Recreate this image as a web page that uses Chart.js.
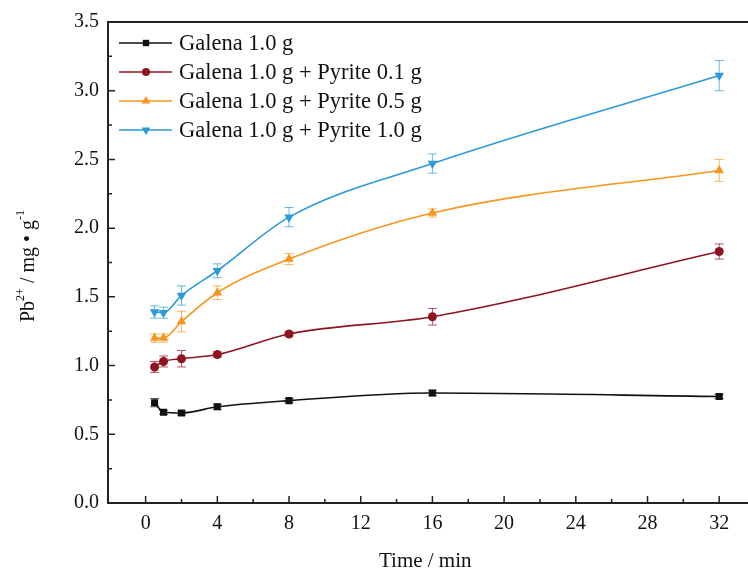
<!DOCTYPE html>
<html>
<head>
<meta charset="utf-8">
<script src="https://cdn.jsdelivr.net/npm/chart.js@4.4.1/dist/chart.umd.min.js"></script>
<style>
    html, body { margin: 0; padding: 0; background: #fff; }
    #wrap { width: 748px; height: 574px; position: relative; }
</style>
</head>
<body>
<div id="wrap"><canvas id="leachChart"></canvas></div>
<script>
// Sampling times (min)
const times = [0.5, 1, 2, 4, 8, 16, 32];

// Pb2+ leached, mg/g
const galena = [0.73, 0.66, 0.655, 0.70, 0.745, 0.80, 0.775];
const pyrite01 = [0.99, 1.03, 1.05, 1.08, 1.23, 1.355, 1.83];
const pyrite05 = [1.20, 1.20, 1.32, 1.53, 1.775, 2.11, 2.42];
const pyrite10 = [1.39, 1.385, 1.51, 1.69, 2.08, 2.47, 3.11];

// Error bar half-heights
const galenaErr = [0.03, 0.015, 0.015, 0.02, 0.015, 0.02, 0.015];
const pyrite01Err = [0.04, 0.04, 0.06, 0.02, 0.015, 0.06, 0.055];
const pyrite05Err = [0.03, 0.03, 0.075, 0.05, 0.04, 0.03, 0.08];
const pyrite10Err = [0.045, 0.04, 0.07, 0.05, 0.07, 0.07, 0.11];

const labels = [
    'Galena 1.0 g',
    'Galena 1.0 g + Pyrite 0.1 g',
    'Galena 1.0 g + Pyrite 0.5 g',
    'Galena 1.0 g + Pyrite 1.0 g'
];

const serif = '"Liberation Serif", "Times New Roman", serif';

function toPoints(values) {
    return times.map((t, i) => ({ x: t, y: values[i] }));
}

function makeSet(label, values, errors, color, style, size, rotation) {
    return {
        label: label,
        data: toPoints(values),
        errors: errors,
        borderColor: color,
        backgroundColor: color,
        borderWidth: 1.6,
        pointStyle: style,
        pointRadius: size,
        pointRotation: rotation || 0,
        pointBorderWidth: 0,
        cubicInterpolationMode: 'monotone',
        fill: false
    };
}

// Error bars, drawn under the markers
const errorBars = {
    id: 'errorBars',
    beforeDatasetsDraw(chart) {
        const ctx = chart.ctx;
        const xs = chart.scales.x, ys = chart.scales.y;
        chart.data.datasets.forEach(ds => {
            ctx.save();
            ctx.strokeStyle = ds.borderColor;
            ctx.globalAlpha = 0.7;
            ctx.lineWidth = 1;
            ds.data.forEach((p, i) => {
                const e = ds.errors[i];
                const px = xs.getPixelForValue(p.x);
                const top = ys.getPixelForValue(p.y + e);
                const bot = ys.getPixelForValue(p.y - e);
                ctx.beginPath();
                ctx.moveTo(px, top); ctx.lineTo(px, bot);
                ctx.moveTo(px - 4.5, top); ctx.lineTo(px + 4.5, top);
                ctx.moveTo(px - 4.5, bot); ctx.lineTo(px + 4.5, bot);
                ctx.stroke();
            });
            ctx.restore();
        });
    }
};

// Frame, inward ticks, y title and legend
const frame = {
    id: 'frame',
    afterDraw(chart) {
        const ctx = chart.ctx;
        const a = chart.chartArea;
        const xs = chart.scales.x, ys = chart.scales.y;
        ctx.save();
        ctx.strokeStyle = '#222';
        ctx.lineWidth = 2;
        ctx.beginPath();
        ctx.moveTo(chart.width, a.top);
        ctx.lineTo(a.left, a.top);
        ctx.lineTo(a.left, a.bottom);
        ctx.lineTo(chart.width, a.bottom);
        ctx.stroke();

        ctx.lineWidth = 1.5;
        ctx.beginPath();
        xs.ticks.forEach(t => {
            if (t.value < 0) return;
            const px = xs.getPixelForValue(t.value);
            const len = t.value % 4 === 0 ? 7 : 4;
            ctx.moveTo(px, a.bottom);
            ctx.lineTo(px, a.bottom - len);
        });
        ys.ticks.forEach(t => {
            const py = ys.getPixelForValue(t.value);
            const major = Math.abs(t.value * 2 - Math.round(t.value * 2)) < 1e-6;
            ctx.moveTo(a.left, py);
            ctx.lineTo(a.left + (major ? 7 : 4), py);
        });
        ctx.stroke();

        // y title with superscripts
        ctx.translate(29, 266);
        ctx.rotate(-Math.PI / 2);
        ctx.fillStyle = '#111';
        ctx.textBaseline = 'middle';
        const big = '20px ' + serif, small = '12px ' + serif;
        const parts = [
            ['Pb', big, 0], ['2+', small, -8], [' / mg \u2022 g', big, 0], ['-1', small, -8]
        ];
        let w = 0;
        parts.forEach(p => { ctx.font = p[1]; w += ctx.measureText(p[0]).width; });
        let cx = -w / 2;
        parts.forEach(p => {
            ctx.font = p[1];
            ctx.fillText(p[0], cx, p[2]);
            cx += ctx.measureText(p[0]).width;
        });
        ctx.restore();

        // legend
        ctx.save();
        ctx.font = '22.5px ' + serif;
        ctx.textBaseline = 'middle';
        chart.data.datasets.forEach((ds, i) => {
            const y = 43 + i * 29;
            ctx.strokeStyle = ds.borderColor;
            ctx.lineWidth = 1.6;
            ctx.beginPath();
            ctx.moveTo(119, y); ctx.lineTo(172, y);
            ctx.stroke();
            ctx.fillStyle = ds.backgroundColor;
            Chart.helpers.drawPoint(ctx, {
                pointStyle: ds.pointStyle,
                radius: ds.pointRadius - 0.5,
                rotation: ds.pointRotation,
                borderWidth: 0
            }, 146, y);
            ctx.fillStyle = '#111';
            ctx.fillText(ds.label, 179, y + 1);
        });
        ctx.restore();
    }
};

new Chart(document.getElementById('leachChart'), {
    type: 'line',
    data: {
        datasets: [
            makeSet(labels[0], galena, galenaErr, '#111111', 'rect', 5),
            makeSet(labels[1], pyrite01, pyrite01Err, '#8e1420', 'circle', 4.5),
            makeSet(labels[2], pyrite05, pyrite05Err, '#f7961e', 'triangle', 5.5),
            makeSet(labels[3], pyrite10, pyrite10Err, '#2b9ad6', 'triangle', 5.5, 180)
        ]
    },
    options: {
        responsive: true,
        maintainAspectRatio: false,
        animation: false,
        layout: { padding: { top: 22, left: 0, right: 0, bottom: 0 } },
        plugins: {
            legend: { display: false },
            tooltip: { enabled: false }
        },
        scales: {
            x: {
                type: 'linear',
                min: -2.1,
                max: 33.3,
                afterFit(scale) { scale.height = 71; },
                grid: { display: false, drawTicks: false },
                border: { display: false },
                ticks: {
                    stepSize: 2,
                    includeBounds: false,
                    autoSkip: false,
                    maxRotation: 0,
                    padding: 9,
                    color: '#111',
                    font: { family: serif, size: 20 },
                    callback: v => (v >= 0 && v % 4 === 0) ? v : ''
                },
                title: {
                    display: true,
                    text: 'Time / min',
                    color: '#111',
                    font: { family: serif, size: 21 },
                    padding: { top: 0, bottom: 0 }
                }
            },
            y: {
                min: 0,
                max: 3.5,
                afterFit(scale) { scale.width = 108; },
                grid: { display: false, drawTicks: false },
                border: { display: false },
                ticks: {
                    stepSize: 0.25,
                    autoSkip: false,
                    padding: 9,
                    color: '#111',
                    font: { family: serif, size: 20 },
                    callback: v => (Math.abs(v * 2 - Math.round(v * 2)) < 1e-6) ? v.toFixed(1) : ''
                }
            }
        }
    },
    plugins: [errorBars, frame]
});
</script>
</body>
</html>
